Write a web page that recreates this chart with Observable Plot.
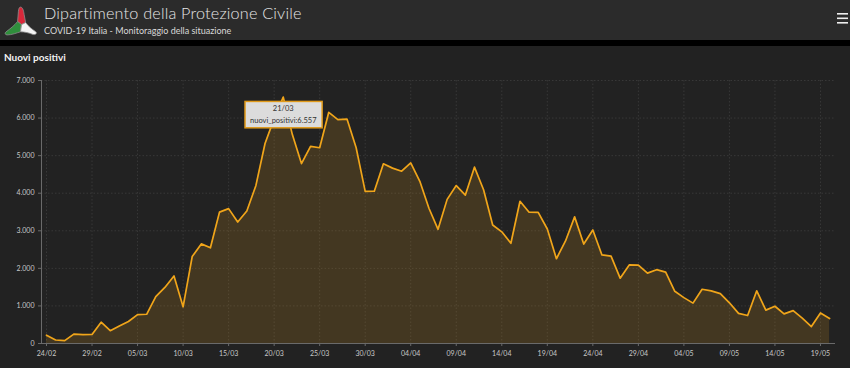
<!DOCTYPE html>
<html><head><meta charset="utf-8">
<script src="https://cdn.jsdelivr.net/npm/d3@7"></script>
<script src="https://cdn.jsdelivr.net/npm/@observablehq/plot@0.6"></script>
<style>
html,body{margin:0;padding:0;background:#222;width:850px;height:368px;overflow:hidden;font-family:Lato,"Open Sans",sans-serif;}
#header{height:40px;background:#2b2b2b;position:relative;}
#logo{position:absolute;left:4px;top:5px;}
#htitle{position:absolute;left:44px;top:3px;color:#e6e6e6;font-size:16.2px;font-weight:300;letter-spacing:0.2px;white-space:nowrap;}
#hsub{position:absolute;left:44px;top:25px;color:#d8d8d8;font-size:9px;white-space:nowrap;}
#menu{position:absolute;left:837px;top:13px;}
#band{height:6px;background:#000;}
#panel{background:#222;height:322px;position:relative;}
#ptitle{position:absolute;left:4px;top:5px;color:#f2f2f2;font-size:10px;font-weight:bold;}
#chart{position:absolute;left:0;top:22px;}
</style></head>
<body>
<div id="header">
  <svg id="logo" width="34" height="31" viewBox="0 0 33 30">
    <g stroke="#8a8a8a" stroke-width="0.8" stroke-linejoin="round">
      <path d="M17,19 L13.2,16 L14,6 C14.2,3.5 15,2 16,2 C18,2 19,5 19.5,9 L21,17 Z" fill="#d8283a"/>
      <path d="M17,19 L13.2,16 C10,20 6,23 2,26 C0.5,27 1,29 3,29 C8,29 12,27 16,26 Z" fill="#2f8f3c"/>
      <path d="M17,19 L21,17 C24,21 28,24 31,26 C32.5,28 30,29.2 28,28.5 C24,27 20,26 16,26 Z" fill="#f4f4f4"/>
    </g>
  </svg>
  <div id="htitle">Dipartimento della Protezione Civile</div>
  <div id="hsub">COVID-19 Italia - Monitoraggio della situazione</div>
  <svg id="menu" width="12" height="11"><rect x="0" y="0" width="11" height="1.6" fill="#eee"/><rect x="0" y="4.5" width="11" height="1.6" fill="#eee"/><rect x="0" y="9" width="11" height="1.6" fill="#eee"/></svg>
</div>
<div id="band"></div>
<div id="panel">
  <div id="ptitle">Nuovi positivi</div>
  <div id="chart"></div>
</div>
<script>
const dates = ["24/02","25/02","26/02","27/02","28/02","29/02","01/03","02/03","03/03","04/03","05/03","06/03","07/03","08/03","09/03","10/03","11/03","12/03","13/03","14/03","15/03","16/03","17/03","18/03","19/03","20/03","21/03","22/03","23/03","24/03","25/03","26/03","27/03","28/03","29/03","30/03","31/03","01/04","02/04","03/04","04/04","05/04","06/04","07/04","08/04","09/04","10/04","11/04","12/04","13/04","14/04","15/04","16/04","17/04","18/04","19/04","20/04","21/04","22/04","23/04","24/04","25/04","26/04","27/04","28/04","29/04","30/04","01/05","02/05","03/05","04/05","05/05","06/05","07/05","08/05","09/05","10/05","11/05","12/05","13/05","14/05","15/05","16/05","17/05","18/05","19/05","20/05"];
const nuoviPositivi = [221,93,78,250,238,240,566,342,466,587,769,778,1247,1492,1797,977,2313,2651,2547,3497,3590,3233,3526,4207,5322,5986,6557,5560,4789,5249,5210,6153,5959,5974,5217,4050,4053,4782,4668,4585,4805,4316,3599,3039,3836,4204,3951,4694,4092,3153,2972,2667,3786,3493,3491,3047,2256,2729,3370,2646,3021,2357,2324,1739,2091,2086,1872,1965,1900,1389,1221,1075,1444,1401,1327,1083,802,744,1402,888,992,789,875,675,451,813,665];
const xTickLabels = ["24/02","29/02","05/03","10/03","15/03","20/03","25/03","30/03","04/04","09/04","14/04","19/04","24/04","29/04","04/05","09/05","14/05","19/05"];
const yTicks = [0,1000,2000,3000,4000,5000,6000,7000];
const tooltipDate = "21/03";
const seriesName = "nuovi_positivi";

const parse = s => { const [d,m] = s.split("/"); return new Date(Date.UTC(2020, +m - 1, +d)); };
const DAY = 864e5;
const rows = dates.map((d,i) => ({date: parse(d), value: nuoviPositivi[i], label: d}));
const xTicks = xTickLabels.map(parse);
const fmt = d3.formatLocale({decimal:",", thousands:".", grouping:[3], currency:["","€"]}).format(",d");
const x0 = new Date(parse(dates[0]).getTime() - 0.55*DAY);
const x1 = new Date(parse(dates[dates.length-1]).getTime() + 0.65*DAY);

const chart = Plot.plot({
  width: 850, height: 300,
  marginLeft: 41, marginRight: 15, marginTop: 12, marginBottom: 25,
  style: {background: "transparent", color: "#c8c8c8", fontFamily: "Lato, 'Open Sans', sans-serif", fontSize: "7px"},
  x: {type: "utc", domain: [x0, x1], label: null},
  y: {domain: [0, 7000], label: null},
  marks: [
    Plot.gridY(yTicks, {stroke: "#383838", strokeOpacity: 1, strokeDasharray: "1.5,2"}),
    Plot.gridX(xTicks, {stroke: "#383838", strokeOpacity: 1, strokeDasharray: "1.5,2"}),
    Plot.areaY(rows, {x: "date", y: "value", fill: "#e8a020", fillOpacity: 0.17}),
    Plot.lineY(rows, {x: "date", y: "value", stroke: "#f0a51a", strokeWidth: 1.7}),
    Plot.ruleY([0], {stroke: "#6a6a6a", strokeWidth: 1}),
    Plot.ruleX([x0], {stroke: "#6a6a6a", strokeWidth: 1}),
    Plot.axisX(xTicks, {tickFormat: d3.utcFormat("%d/%m"), tickSize: 3, tickPadding: 5, stroke: "#6a6a6a", fill: "#c8c8c8", label: null}),
    Plot.axisY(yTicks, {tickFormat: fmt, tickSize: 3, tickPadding: 4, stroke: "#6a6a6a", fill: "#c8c8c8", label: null}),
    Plot.text(rows.filter(d => d.label === tooltipDate), {
      x: "date", y: "value",
      text: d => `${d.label}\n${seriesName}:${fmt(d.value)}`,
      lineAnchor: "top", dy: 5, lineHeight: 1.65,
      fill: "#333", fontSize: 7.5, textAnchor: "middle"
    })
  ]
});
document.getElementById("chart").appendChild(chart);

// tooltip box sized from the rendered label
chart.querySelectorAll('g[aria-label="text"] > text').forEach(t => {
  const bb = t.getBBox();
  const r = document.createElementNS("http://www.w3.org/2000/svg", "rect");
  r.setAttribute("x", bb.x - 5);
  r.setAttribute("y", bb.y - 2.5);
  r.setAttribute("width", bb.width + 10);
  r.setAttribute("height", bb.height + 5);
  r.setAttribute("fill", "#dcdcdc");
  r.setAttribute("stroke", "#e09a1a");
  r.setAttribute("stroke-width", "1.5");
  if (t.getAttribute("transform")) r.setAttribute("transform", t.getAttribute("transform"));
  t.parentNode.insertBefore(r, t);
});
</script>
</body></html>
